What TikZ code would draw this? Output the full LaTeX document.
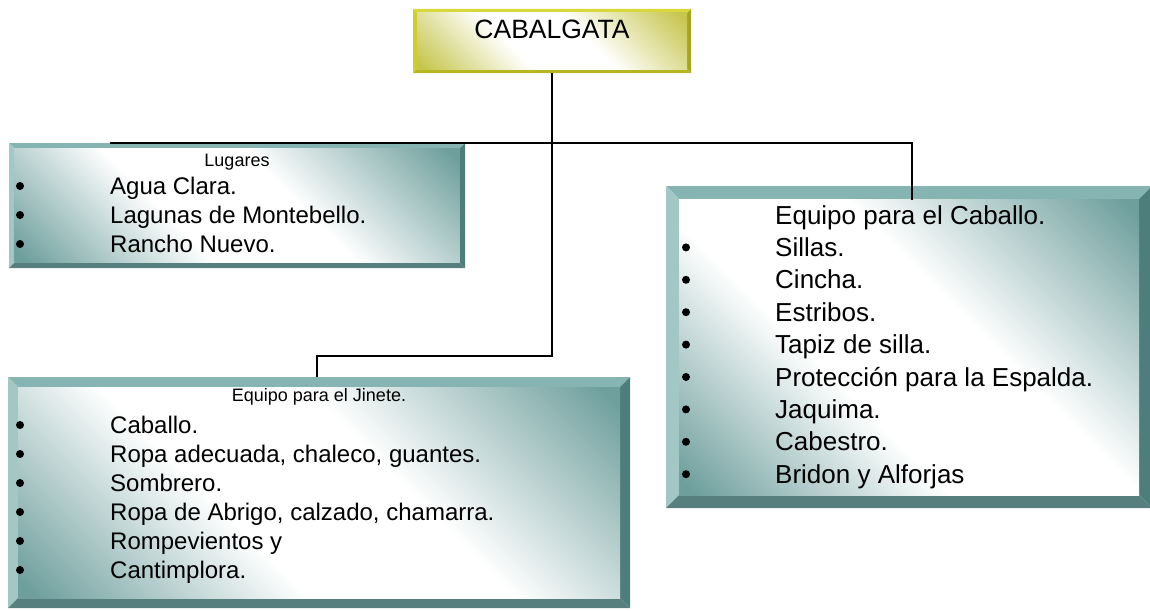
\documentclass[tikz,border=0pt]{standalone}
\usepackage{fontspec}
\setmainfont{Liberation Sans}
\definecolor{tealface}{HTML}{6E9F9D}
\definecolor{tealtop}{HTML}{86B4B2}
\definecolor{tealleft}{HTML}{A2C7C5}
\definecolor{tealright}{HTML}{4E7E7C}
\definecolor{tealbot}{HTML}{567F7D}
\definecolor{yface}{HTML}{C6C64E}
\definecolor{ytop}{HTML}{D8D83A}
\definecolor{yleft}{HTML}{CECE2E}
\definecolor{yright}{HTML}{A6A61C}
\definecolor{ybot}{HTML}{B6B620}
\pgfdeclareverticalshading{tealsh}{100bp}{color(0bp)=(tealface); color(16bp)=(tealface); color(40bp)=(white); color(58bp)=(white); color(84bp)=(tealface); color(100bp)=(tealface)}
\pgfdeclareverticalshading{yelsh}{100bp}{color(0bp)=(yface); color(16bp)=(yface); color(40bp)=(white); color(58bp)=(white); color(84bp)=(yface); color(100bp)=(yface)}
\newcommand\bevelbox[7]{%
  \fill[#3] (#1.north west) -- (#1.north east) -- ([xshift=-#2,yshift=-#2]#1.north east) -- ([xshift=#2,yshift=-#2]#1.north west) -- cycle;
  \fill[#4] (#1.north west) -- ([xshift=#2,yshift=-#2]#1.north west) -- ([xshift=#2,yshift=#2]#1.south west) -- (#1.south west) -- cycle;
  \fill[#5] (#1.north east) -- (#1.south east) -- ([xshift=-#2,yshift=#2]#1.south east) -- ([xshift=-#2,yshift=-#2]#1.north east) -- cycle;
  \fill[#6] (#1.south west) -- (#1.south east) -- ([xshift=-#2,yshift=#2]#1.south east) -- ([xshift=#2,yshift=#2]#1.south west) -- cycle;
  \shade[shading=#7, shading angle=-45] ([xshift=#2,yshift=-#2]#1.north west) rectangle ([xshift=-#2,yshift=#2]#1.south east);
}
\tikzset{
  boxshape/.style={rectangle, inner sep=0pt, outer sep=0pt},
  conn/.style={draw=black, line width=1.5pt},
  bigtxt/.style={anchor=base west, inner sep=0pt, font=\fontsize{24}{29}\selectfont},
  cabtxt/.style={anchor=base west, inner sep=0pt, font=\fontsize{26}{32}\selectfont},
  headtxt/.style={anchor=base, inner sep=0pt, font=\fontsize{18}{22}\selectfont},
  bul/.style={circle, fill=black, inner sep=0pt, minimum size=8pt}
}
\begin{document}
\begin{tikzpicture}[x=1pt,y=-1pt]
\useasboundingbox (0,0) rectangle (1150,610);
% boxes
\node[boxshape, minimum width=278pt, minimum height=64pt] (title) at (552,41) {};
\bevelbox{title}{4pt}{ytop}{yleft}{yright}{ybot}{yelsh}
\node[boxshape, minimum width=456pt, minimum height=125pt] (lug) at (237,205.5) {};
\bevelbox{lug}{5.5pt}{tealtop}{tealleft}{tealright}{tealbot}{tealsh}
\node[boxshape, minimum width=622pt, minimum height=231pt] (jin) at (319,492.5) {};
\bevelbox{jin}{10pt}{tealtop}{tealleft}{tealright}{tealbot}{tealsh}
\node[boxshape, minimum width=486pt, minimum height=322pt] (cab) at (909,347) {};
\bevelbox{cab}{13pt}{tealtop}{tealleft}{tealright}{tealbot}{tealsh}
% connectors
\coordinate (lugtop) at (110,143);
\coordinate (hub) at (552,143);
\coordinate (jinbend) at (552,356);
\coordinate (cabin) at (912,200);
\draw[conn] (title.south) -- (hub);
\draw[conn] (hub) -- (lugtop);
\draw[conn] (hub) -| (cabin);
\draw[conn] (hub) -- (jinbend) -| ([xshift=-2pt]jin.north);
% title text
\node[anchor=base, inner sep=0pt, font=\fontsize{26.5}{30}\selectfont] (ttl) at (552,38) {CABALGATA};
% Lugares
\node[headtxt] (lughead) at (237,166) {Lugares};
\foreach \t [count=\i] in {Agua Clara., Lagunas de Montebello., Rancho Nuevo.}{
  \node[bigtxt] (lugitem\i) at (110,{165+29*\i}) {\t};
  \node[bul] (lugbul\i) at (20,{157+29*\i}) {};
}
% Jinete
\node[headtxt] (jinhead) at (319,401) {Equipo para el Jinete.};
\foreach \t [count=\i] in {Caballo., {Ropa adecuada, chaleco, guantes.}, Sombrero., {Ropa de Abrigo, calzado, chamarra.}, Rompevientos y, Cantimplora.}{
  \node[bigtxt] (jinitem\i) at (110,{404+29*\i}) {\t};
  \node[bul] (jinbul\i) at (20,{396+29*\i}) {};
}
% Caballo
\node[cabtxt] (cabhead) at (775,224) {Equipo para el Caballo.};
\foreach \t [count=\i] in {Sillas., Cincha., Estribos., Tapiz de silla., Protección para la Espalda., Jaquima., Cabestro., Bridon y Alforjas}{
  \node[cabtxt] (cabitem\i) at (775,{224+32.4*\i}) {\t};
  \node[bul] (cabbul\i) at (686,{215+32.4*\i}) {};
}
\end{tikzpicture}
\end{document}
